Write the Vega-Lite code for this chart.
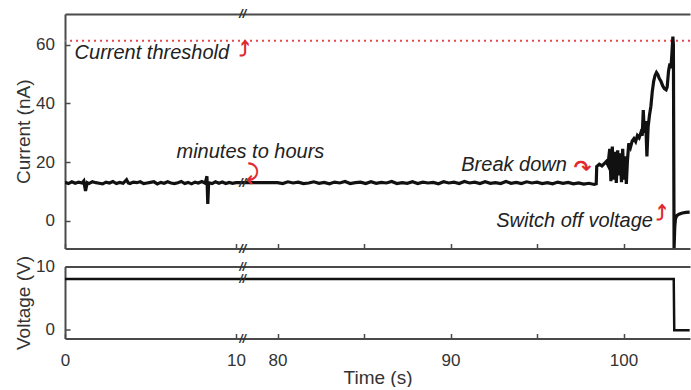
{
  "$schema": "https://vega.github.io/schema/vega-lite/v6.json",
  "padding": {"left": 14, "right": 0, "top": 8, "bottom": 0},
  "autosize": {"type": "pad"},
  "background": "white",
  "config": {
    "view": {"stroke": null},
    "font": "Liberation Sans",
    "axis": {
      "domainColor": "#4a4a4a", "domainWidth": 2, "tickColor": "#4a4a4a", "tickWidth": 1.5, "tickSize": -5,
      "labelFont": "Liberation Sans", "labelFontSize": 17, "labelColor": "#333",
      "titleFont": "Liberation Sans", "titleFontSize": 19, "titleFontWeight": "normal", "titleColor": "#333",
      "grid": false, "labelFlush": false, "labelOverlap": false
    }
  },
  "spacing": 17.5,
  "bounds": "flush",
  "datasets": {
    "current": [
      {"t":0,"i":13.1},{"t":0.2,"i":12.7},{"t":0.4,"i":13.3},{"t":0.6,"i":12.8},{"t":0.8,"i":13.2},{"t":1.0,"i":12.9},{"t":1.1,"i":13.6},{"t":1.2,"i":10.2},{"t":1.3,"i":13.0},{"t":1.4,"i":12.7},
      {"t":1.6,"i":13.3},{"t":1.8,"i":13.0},{"t":2.0,"i":12.8},{"t":2.2,"i":12.6},{"t":2.4,"i":13.2},{"t":2.6,"i":12.9},{"t":2.8,"i":13.4},{"t":3.0,"i":12.7},{"t":3.2,"i":13.1},{"t":3.4,"i":12.8},
      {"t":3.6,"i":14.0},{"t":3.7,"i":12.9},{"t":3.8,"i":12.7},{"t":4.0,"i":13.2},{"t":4.2,"i":13.0},{"t":4.4,"i":13.3},{"t":4.6,"i":12.7},{"t":4.8,"i":12.9},{"t":5.0,"i":13.1},{"t":5.2,"i":13.3},
      {"t":5.4,"i":12.6},{"t":5.6,"i":13.1},{"t":5.8,"i":12.8},{"t":6.0,"i":13.3},{"t":6.2,"i":12.9},{"t":6.4,"i":12.7},{"t":6.6,"i":13.0},{"t":6.8,"i":13.4},{"t":7.0,"i":12.7},{"t":7.2,"i":13.1},
      {"t":7.4,"i":12.6},{"t":7.6,"i":13.2},{"t":7.8,"i":12.9},{"t":8.0,"i":13.4},{"t":8.2,"i":12.8},{"t":8.3,"i":15.2},{"t":8.35,"i":5.8},{"t":8.4,"i":13.0},{"t":8.6,"i":12.7},{"t":8.8,"i":13.3},
      {"t":9.0,"i":12.8},{"t":9.2,"i":13.2},{"t":9.4,"i":12.7},{"t":9.6,"i":13.1},{"t":9.8,"i":12.8},{"t":10.0,"i":13.0},
      {"t":80.0,"i":13.0},{"t":80.3,"i":12.7},{"t":80.6,"i":13.3},{"t":80.9,"i":12.9},{"t":81.2,"i":13.2},{"t":81.5,"i":12.7},{"t":81.8,"i":12.9},{"t":82.1,"i":13.3},{"t":82.4,"i":12.8},{"t":82.7,"i":13.1},
      {"t":83.0,"i":12.6},{"t":83.3,"i":13.2},{"t":83.6,"i":12.9},{"t":83.9,"i":13.4},{"t":84.2,"i":12.7},{"t":84.5,"i":13.0},{"t":84.8,"i":13.2},{"t":85.1,"i":12.7},{"t":85.4,"i":13.3},{"t":85.7,"i":12.8},
      {"t":86.0,"i":13.1},{"t":86.3,"i":12.9},{"t":86.6,"i":13.4},{"t":86.9,"i":12.7},{"t":87.2,"i":13.0},{"t":87.5,"i":12.8},{"t":87.8,"i":13.3},{"t":88.1,"i":12.7},{"t":88.4,"i":13.2},{"t":88.7,"i":12.9},
      {"t":89.0,"i":13.1},{"t":89.3,"i":12.6},{"t":89.6,"i":13.3},{"t":89.9,"i":12.9},{"t":90.2,"i":13.2},{"t":90.5,"i":12.7},{"t":90.8,"i":13.4},{"t":91.1,"i":12.9},{"t":91.4,"i":13.2},{"t":91.7,"i":12.7},
      {"t":92.0,"i":13.3},{"t":92.3,"i":12.8},{"t":92.6,"i":13.0},{"t":92.9,"i":12.7},{"t":93.2,"i":13.4},{"t":93.5,"i":12.8},{"t":93.8,"i":13.1},{"t":94.1,"i":12.7},{"t":94.4,"i":13.3},{"t":94.7,"i":12.9},
      {"t":95.0,"i":13.2},{"t":95.3,"i":12.7},{"t":95.6,"i":13.0},{"t":95.9,"i":12.6},{"t":96.2,"i":13.2},{"t":96.5,"i":12.8},{"t":96.8,"i":13.1},{"t":97.1,"i":12.6},{"t":97.4,"i":12.9},{"t":97.7,"i":12.5},
      {"t":98.0,"i":12.8},{"t":98.3,"i":12.4},{"t":98.42,"i":12.6},
      {"t":98.45,"i":18.5},{"t":98.6,"i":19.3},{"t":98.75,"i":18.7},{"t":98.9,"i":19.6},{"t":99.0,"i":20.2},{"t":99.1,"i":19.0},{"t":99.2,"i":24.5},{"t":99.27,"i":13.5},{"t":99.35,"i":25.3},{"t":99.42,"i":14.0},
      {"t":99.5,"i":23.5},{"t":99.58,"i":12.9},{"t":99.66,"i":24.0},{"t":99.74,"i":15.5},{"t":99.8,"i":23.0},{"t":99.88,"i":13.2},{"t":99.95,"i":24.5},{"t":100.02,"i":14.0},{"t":100.1,"i":22.0},{"t":100.16,"i":12.6},
      {"t":100.22,"i":20.0},{"t":100.3,"i":26.4},{"t":100.4,"i":25.0},{"t":100.5,"i":27.2},{"t":100.6,"i":28.0},{"t":100.7,"i":27.0},{"t":100.8,"i":29.0},{"t":100.9,"i":28.3},{"t":101.0,"i":30.0},{"t":101.08,"i":29.0},
      {"t":101.14,"i":37.7},{"t":101.2,"i":30.0},{"t":101.28,"i":34.0},{"t":101.35,"i":21.9},{"t":101.42,"i":32.0},{"t":101.5,"i":36.0},{"t":101.58,"i":39.0},{"t":101.66,"i":44.0},{"t":101.74,"i":47.5},{"t":101.82,"i":49.5},
      {"t":101.9,"i":50.5},{"t":101.98,"i":49.8},{"t":102.06,"i":48.5},{"t":102.16,"i":47.5},{"t":102.26,"i":46.0},{"t":102.36,"i":45.0},{"t":102.46,"i":44.6},{"t":102.52,"i":45.5},{"t":102.6,"i":51.0},{"t":102.68,"i":53.5},
      {"t":102.74,"i":52.0},{"t":102.8,"i":57.5},{"t":102.85,"i":62.7},{"t":102.88,"i":60.0},{"t":102.92,"i":-9.3},{"t":102.96,"i":-2.0},{"t":103.0,"i":0.8},{"t":103.08,"i":1.8},{"t":103.2,"i":2.3},{"t":103.4,"i":2.7},
      {"t":103.6,"i":2.9},{"t":103.82,"i":3.0}
    ],
    "voltage": [
      {"t":0,"v":8},{"t":10,"v":8},{"t":80,"v":8},{"t":102.9,"v":8},{"t":102.93,"v":-0.2},{"t":103.82,"v":-0.2}
    ],
    "threshold": [{"level": 61.3}],
    "notesTop": [
      {"t":0.56,"y":57.1,"label":"Current threshold"},
      {"t":6.52,"y":23.5,"label":"minutes to hours"},
      {"t":90.62,"y":19.0,"label":"Break down"},
      {"t":92.64,"y":-0.2,"label":"Switch off voltage"}
    ],
    "arrowsTop": [
      {"t":24.3,"y":58.3,"label":"⤴"},
      {"t":37.8,"y":16.2,"label":"⤸"},
      {"t":97.63,"y":17.6,"label":"↷"},
      {"t":102.2,"y":2.2,"label":"⤴"}
    ],
    "breaksTop": [{"t":21,"y":70.4},{"t":21,"y":-9.4},{"t":21,"y":13}],
    "breaksBottom": [{"t":21,"y":10},{"t":21,"y":-1.5},{"t":21,"y":8}]
  },
  "vconcat": [
    {
      "width": 625,
      "height": 234.5,
      "resolve": {"axis": {"x": "independent"}},
      "layer": [
        {
          "data": {"name": "threshold"},
          "mark": {"type": "rule", "color": "#e8474c", "strokeDash": [2, 4], "strokeWidth": 2},
          "encoding": {
            "y": {"field": "level", "type": "quantitative", "scale": {"domain": [-9.4, 70.4], "nice": false, "zero": false},
                  "axis": {"values": [0, 20, 40, 60], "title": "Current (nA)", "labelPadding": 15.5, "titlePadding": 2}}
          }
        },
        {
          "data": {"name": "current"},
          "mark": {"type": "line", "color": "#111", "strokeWidth": 3.2, "clip": true},
          "encoding": {
            "x": {"field": "t", "type": "quantitative",
                  "scale": {"domain": [0, 10, 80, 103.84], "range": [0, 171, 212.5, 625], "nice": false, "zero": false},
                  "axis": {"orient": "bottom", "values": [0, 10, 80, 85, 90, 95, 100], "labels": false, "title": null}},
            "y": {"field": "i", "type": "quantitative", "title": "Current (nA)"}
          }
        },
        {
          "data": {"name": "current"},
          "mark": {"type": "line", "opacity": 0},
          "encoding": {
            "x": {"field": "t", "type": "quantitative", "axis": {"orient": "top", "labels": false, "ticks": false, "title": null}},
            "y": {"field": "i", "type": "quantitative", "title": "Current (nA)"}
          }
        },
        {
          "data": {"name": "notesTop"},
          "mark": {"type": "text", "align": "left", "baseline": "middle", "font": "Liberation Sans", "fontStyle": "italic", "fontSize": 20, "color": "#222"},
          "encoding": {
            "x": {"field": "t", "type": "quantitative", "axis": null},
            "y": {"field": "y", "type": "quantitative", "title": "Current (nA)"},
            "text": {"field": "label"}
          }
        },
        {
          "data": {"name": "arrowsTop"},
          "mark": {"type": "text", "align": "center", "baseline": "middle", "font": "DejaVu Sans", "fontSize": 21, "fontWeight": "bold", "color": "#e0282e"},
          "encoding": {
            "x": {"field": "t", "type": "quantitative", "axis": null},
            "y": {"field": "y", "type": "quantitative", "title": "Current (nA)"},
            "text": {"field": "label"}
          }
        },
        {
          "data": {"name": "breaksTop"},
          "mark": {"type": "text", "align": "center", "baseline": "middle", "font": "Liberation Sans", "fontStyle": "italic", "fontWeight": "bold", "fontSize": 13, "color": "#333", "text": "//"},
          "encoding": {
            "x": {"field": "t", "type": "quantitative", "axis": null},
            "y": {"field": "y", "type": "quantitative", "title": "Current (nA)"}
          }
        }
      ]
    },
    {
      "width": 625,
      "height": 72,
      "resolve": {"axis": {"x": "independent"}},
      "layer": [
        {
          "data": {"name": "voltage"},
          "mark": {"type": "line", "color": "#111", "strokeWidth": 2.5, "clip": true},
          "encoding": {
            "x": {"field": "t", "type": "quantitative",
                  "scale": {"domain": [0, 10, 80, 103.84], "range": [0, 171, 212.5, 625], "nice": false, "zero": false},
                  "axis": {"orient": "bottom", "values": [0, 10, 80, 85, 90, 95, 100], "title": "Time (s)", "labelPadding": 18.5, "titlePadding": 0,
                           "labelExpr": "datum.value == 85 || datum.value == 95 ? '' : datum.label"}},
            "y": {"field": "v", "type": "quantitative", "scale": {"domain": [-1.5, 10], "nice": false, "zero": false},
                  "axis": {"values": [0, 10], "title": "Voltage (V)", "labelPadding": 15.5, "titlePadding": 2}}
          }
        },
        {
          "data": {"name": "voltage"},
          "mark": {"type": "line", "opacity": 0},
          "encoding": {
            "x": {"field": "t", "type": "quantitative", "axis": {"orient": "top", "labels": false, "ticks": false, "title": null}},
            "y": {"field": "v", "type": "quantitative", "title": "Voltage (V)"}
          }
        },
        {
          "data": {"name": "breaksBottom"},
          "mark": {"type": "text", "align": "center", "baseline": "middle", "font": "Liberation Sans", "fontStyle": "italic", "fontWeight": "bold", "fontSize": 12, "color": "#333", "text": "//"},
          "encoding": {
            "x": {"field": "t", "type": "quantitative", "axis": null},
            "y": {"field": "y", "type": "quantitative", "title": "Voltage (V)"}
          }
        }
      ]
    }
  ]
}
